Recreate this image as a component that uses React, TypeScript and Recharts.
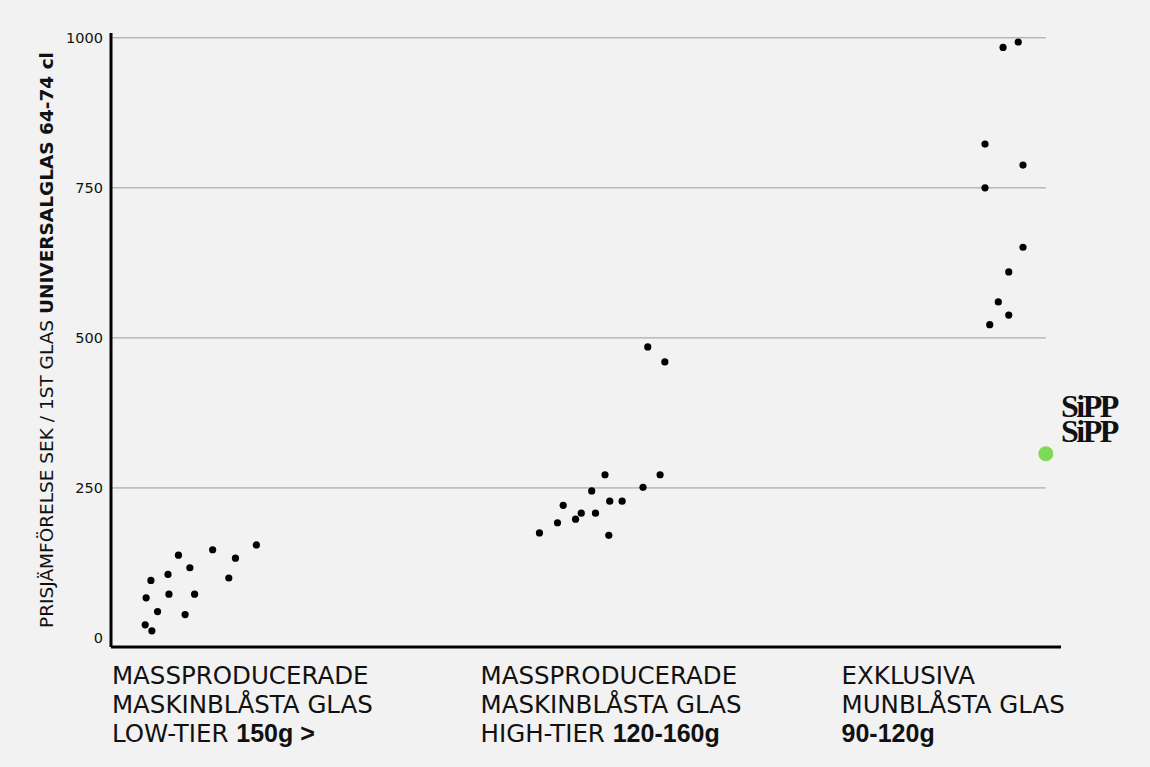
import React from 'react';
import { ScatterChart, Scatter, XAxis, YAxis, ReferenceLine } from 'recharts';

const lowTierX = [7.1, 10.7, 15.3, 8.3, 13.1, 4.2, 6.0, 12.4, 3.7, 6.1, 8.8, 4.9, 7.8, 3.6, 4.3];
const lowTierY = [138, 147, 155, 117, 133, 96, 106, 100, 67, 73, 73, 44, 39, 22, 12];

const highTierX = [56.5, 58.3, 52.0, 57.8, 56.0, 50.6, 47.6, 52.5, 53.8, 49.5, 51.0, 48.9, 47.0, 45.1, 52.4];
const highTierY = [485, 460, 272, 272, 251, 245, 221, 228, 228, 208, 208, 198, 192, 175, 171];

const exclusiveX = [95.5, 93.9, 92.0, 96.0, 92.0, 96.0, 94.5, 93.4, 94.5, 92.5];
const exclusiveY = [993, 984, 823, 788, 750, 651, 610, 560, 538, 522];

const sippX = [98.4];
const sippY = [307];

const yTicks = [0, 250, 500, 750, 1000];
const gridValues = [250, 500, 750, 1000];
const gridEndX = 98.4;

const categoryTickX = [0.1, 38.9, 76.9];
const categoryLines = [
  ['MASSPRODUCERADE', 'MASKINBLÅSTA GLAS', 'LOW-TIER ', '150g >'],
  ['MASSPRODUCERADE', 'MASKINBLÅSTA GLAS', 'HIGH-TIER ', '120-160g'],
  ['EXKLUSIVA', 'MUNBLÅSTA GLAS', '', '90-120g'],
];

const yTitleLight = 'PRISJÄMFÖRELSE SEK / 1ST  GLAS ';
const yTitleBold = 'UNIVERSALGLAS 64-74 cl';
const logoText = 'SiPP SiPP';

const toPoints = (xs: number[], ys: number[]) => xs.map((x, i) => ({ x, y: ys[i] }));

const FONT = '"DejaVu Sans", sans-serif';
const BOLD_FONT = '"Liberation Sans", Arial, sans-serif';

const CategoryTick = (props: any) => {
  const { x, index } = props;
  const lines = categoryLines[index];
  if (!lines) return null;
  const base = 684;
  return (
    <g>
      <text x={x} y={base} fontFamily={FONT} fontSize={24.5} fill="#111" textAnchor="start">
        {lines[0]}
      </text>
      <text x={x} y={base + 29} fontFamily={FONT} fontSize={24.5} fill="#111" textAnchor="start">
        {lines[1]}
      </text>
      <text x={x} y={base + 58} fontFamily={FONT} fontSize={24.5} fill="#111" textAnchor="start">
        {lines[2]}
        <tspan fontFamily={BOLD_FONT} fontWeight="bold" fontSize={25}>
          {lines[3]}
        </tspan>
      </text>
    </g>
  );
};

const dot = (r: number, fill: string) => (p: any) => <circle cx={p.cx} cy={p.cy} r={r} fill={fill} />;

export default function App() {
  return (
    <div
      style={{
        position: 'absolute',
        left: 0,
        top: 0,
        width: 1150,
        height: 767,
        background: '#f2f2f2',
        overflow: 'hidden',
      }}
    >
      <ScatterChart width={1150} height={767} margin={{ top: 33, right: 89, bottom: 0, left: 51 }}>
        <XAxis
          type="number"
          dataKey="x"
          domain={[0, 100]}
          ticks={categoryTickX}
          tick={<CategoryTick />}
          tickLine={false}
          axisLine={{ stroke: '#000', strokeWidth: 3 }}
          height={120}
          interval={0}
          allowDataOverflow
        />
        <YAxis
          type="number"
          dataKey="y"
          domain={[-15, 1008]}
          ticks={yTicks}
          tickLine={false}
          tickSize={0}
          tickMargin={8}
          width={60}
          axisLine={{ stroke: '#000', strokeWidth: 3 }}
          tick={{ fontFamily: FONT, fontSize: 14.5, fill: '#111' }}
          allowDataOverflow
          interval={0}
        />
        {gridValues.map((v) => (
          <ReferenceLine
            key={v}
            segment={[
              { x: 0, y: v },
              { x: gridEndX, y: v },
            ]}
            stroke="#9a9a9a"
            strokeWidth={1}
            ifOverflow="visible"
          />
        ))}
        <Scatter data={toPoints(lowTierX, lowTierY)} fill="#000" isAnimationActive={false} shape={dot(3.6, '#000')} />
        <Scatter data={toPoints(highTierX, highTierY)} fill="#000" isAnimationActive={false} shape={dot(3.6, '#000')} />
        <Scatter data={toPoints(exclusiveX, exclusiveY)} fill="#000" isAnimationActive={false} shape={dot(3.6, '#000')} />
        <Scatter data={toPoints(sippX, sippY)} fill="#7ed957" isAnimationActive={false} shape={dot(7.5, '#7ed957')} />
      </ScatterChart>
      <div
        style={{
          position: 'absolute',
          left: 47,
          top: 340,
          transform: 'translate(-50%, -50%) rotate(-90deg)',
          whiteSpace: 'nowrap',
          fontFamily: FONT,
          fontSize: 18.5,
          color: '#111',
          lineHeight: '20px',
        }}
      >
        <span style={{ fontWeight: 'normal' }}>{yTitleLight}</span>
        <span style={{ fontWeight: 'bold' }}>{yTitleBold}</span>
      </div>
      <div
        style={{
          position: 'absolute',
          left: 1061,
          top: 394,
          width: 58,
          fontFamily: '"Liberation Serif", serif',
          fontWeight: 'bold',
          fontSize: 32,
          lineHeight: '25px',
          letterSpacing: -2.5,
          color: '#111',
        }}
      >
        {logoText}
      </div>
    </div>
  );
}
